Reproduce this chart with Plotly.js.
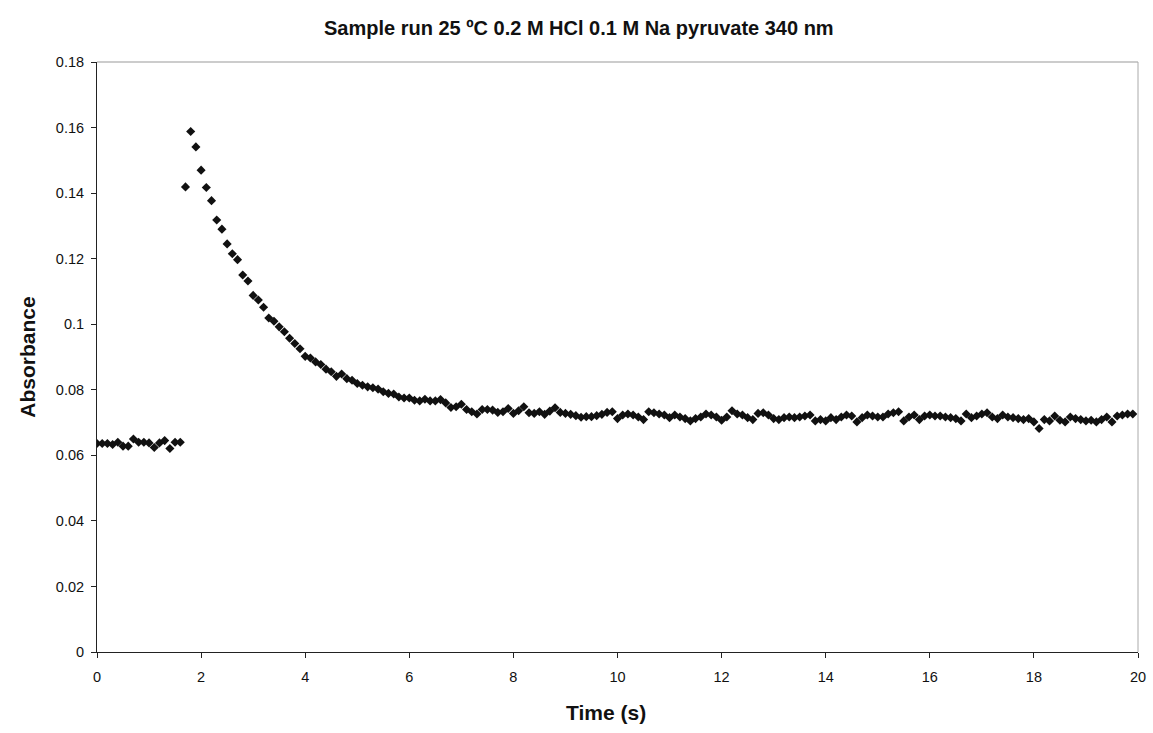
<!DOCTYPE html>
<html>
<head>
<meta charset="utf-8">
<script src="https://cdn.plot.ly/plotly-3.0.1.min.js"></script>
<style>html,body{margin:0;padding:0;background:#fff;}#chart{width:1153px;height:733px;}</style>
</head>
<body>
<div id="chart"></div>
<script>
// Time (s)
const time = [
 0.0,0.1,0.2,0.3,0.4,0.5,0.6,0.7,0.8,0.9,1.0,1.1,1.2,1.3,1.4,1.5,1.6,1.7,1.8,1.9,
 2.0,2.1,2.2,2.3,2.4,2.5,2.6,2.7,2.8,2.9,3.0,3.1,3.2,3.3,3.4,3.5,3.6,3.7,3.8,3.9,
 4.0,4.1,4.2,4.3,4.4,4.5,4.6,4.7,4.8,4.9,5.0,5.1,5.2,5.3,5.4,5.5,5.6,5.7,5.8,5.9,
 6.0,6.1,6.2,6.3,6.4,6.5,6.6,6.7,6.8,6.9,7.0,7.1,7.2,7.3,7.4,7.5,7.6,7.7,7.8,7.9,
 8.0,8.1,8.2,8.3,8.4,8.5,8.6,8.7,8.8,8.9,9.0,9.1,9.2,9.3,9.4,9.5,9.6,9.7,9.8,9.9,
 10.0,10.1,10.2,10.3,10.4,10.5,10.6,10.7,10.8,10.9,11.0,11.1,11.2,11.3,11.4,11.5,11.6,11.7,11.8,11.9,
 12.0,12.1,12.2,12.3,12.4,12.5,12.6,12.7,12.8,12.9,13.0,13.1,13.2,13.3,13.4,13.5,13.6,13.7,13.8,13.9,
 14.0,14.1,14.2,14.3,14.4,14.5,14.6,14.7,14.8,14.9,15.0,15.1,15.2,15.3,15.4,15.5,15.6,15.7,15.8,15.9,
 16.0,16.1,16.2,16.3,16.4,16.5,16.6,16.7,16.8,16.9,17.0,17.1,17.2,17.3,17.4,17.5,17.6,17.7,17.8,17.9,
 18.0,18.1,18.2,18.3,18.4,18.5,18.6,18.7,18.8,18.9,19.0,19.1,19.2,19.3,19.4,19.5,19.6,19.7,19.8,19.9
];
// Absorbance
const absorbance = [
 0.0636,0.0636,0.0636,0.0633,0.0640,0.0628,0.0628,0.0650,0.0640,0.0640,0.0638,0.0624,0.0638,0.0645,0.0621,0.0640,0.0640,0.1419,0.1588,0.1541,
 0.1470,0.1417,0.1377,0.1318,0.1290,0.1245,0.1215,0.1197,0.1150,0.1132,0.1088,0.1074,0.1052,0.1019,0.1009,0.0992,0.0977,0.0957,0.0941,0.0925,
 0.0902,0.0897,0.0885,0.0877,0.0863,0.0855,0.0841,0.0848,0.0834,0.0829,0.0819,0.0814,0.0809,0.0806,0.0802,0.0794,0.0789,0.0787,0.0778,0.0775,
 0.0775,0.0768,0.0766,0.0771,0.0766,0.0766,0.0770,0.0760,0.0746,0.0748,0.0756,0.0740,0.0733,0.0726,0.0740,0.0740,0.0738,0.0731,0.0733,0.0743,
 0.0728,0.0736,0.0748,0.0730,0.0728,0.0733,0.0725,0.0735,0.0745,0.0731,0.0728,0.0725,0.0721,0.0716,0.0718,0.0718,0.0721,0.0725,0.0731,0.0733,
 0.0712,0.0723,0.0726,0.0723,0.0717,0.0709,0.0733,0.0730,0.0726,0.0723,0.0715,0.0723,0.0717,0.0712,0.0705,0.0712,0.0717,0.0726,0.0723,0.0717,
 0.0707,0.0717,0.0736,0.0726,0.0723,0.0715,0.0709,0.0728,0.0730,0.0723,0.0712,0.0709,0.0715,0.0717,0.0715,0.0717,0.0720,0.0723,0.0705,0.0709,
 0.0705,0.0715,0.0709,0.0717,0.0723,0.0720,0.0702,0.0715,0.0723,0.0720,0.0717,0.0717,0.0726,0.0730,0.0733,0.0705,0.0717,0.0723,0.0709,0.0720,
 0.0723,0.0720,0.0720,0.0717,0.0715,0.0712,0.0705,0.0726,0.0715,0.0720,0.0726,0.0730,0.0717,0.0712,0.0723,0.0717,0.0715,0.0712,0.0709,0.0712,
 0.0702,0.0682,0.0709,0.0705,0.0720,0.0707,0.0702,0.0717,0.0712,0.0709,0.0705,0.0707,0.0702,0.0709,0.0717,0.0702,0.0720,0.0723,0.0726,0.0726
];
const xTickVals = [0,2,4,6,8,10,12,14,16,18,20];
const yTickVals = [0,0.02,0.04,0.06,0.08,0.1,0.12,0.14,0.16,0.18];
const chartTitle = 'Sample run 25 ºC 0.2 M HCl 0.1 M Na pyruvate 340 nm';
const xTitle = 'Time (s)';
const yTitle = 'Absorbance';

const trace = {
  x: time, y: absorbance, type: 'scatter', mode: 'markers',
  marker: {symbol: 'diamond', size: 7, color: '#111'},
  hoverinfo: 'x+y'
};

const font = '"Liberation Sans", Arial, sans-serif';
const layout = {
  width: 1153, height: 733,
  paper_bgcolor: '#fff', plot_bgcolor: '#fff',
  margin: {l: 97, r: 15, t: 62, b: 81},
  showlegend: false,
  title: {
    text: '<b>' + chartTitle + '</b>',
    font: {family: font, size: 20, color: '#111'},
    x: 0.502, xanchor: 'center', y: 0.962, yanchor: 'middle'
  },
  xaxis: {
    range: [0, 20], tickvals: xTickVals, ticks: 'outside', ticklen: 5, tickcolor: '#222',
    ticklabelstandoff: 7,
    showline: true, linecolor: '#222', linewidth: 1, showgrid: false, zeroline: false,
    tickfont: {family: font, size: 14.5, color: '#111'}
  },
  yaxis: {
    range: [0, 0.18], tickvals: yTickVals, ticks: 'outside', ticklen: 5, tickcolor: '#222',
    ticklabelstandoff: 4,
    showline: true, linecolor: '#222', linewidth: 1, showgrid: false, zeroline: false,
    tickfont: {family: font, size: 14.5, color: '#111'}
  },
  annotations: [
    {text: '<b>' + xTitle + '</b>', xref: 'paper', yref: 'paper', x: 0.489, y: -0.103,
     xanchor: 'center', yanchor: 'middle', showarrow: false,
     font: {family: font, size: 21, color: '#111'}},
    {text: '<b>' + yTitle + '</b>', xref: 'paper', yref: 'paper', x: -0.0675, y: 0.50,
     xanchor: 'center', yanchor: 'middle', showarrow: false, textangle: -90,
     font: {family: font, size: 21, color: '#111'}}
  ],
  shapes: [
    {type: 'line', xref: 'paper', yref: 'paper', x0: 0, x1: 1, y0: 1, y1: 1, line: {color: '#999', width: 1}},
    {type: 'line', xref: 'paper', yref: 'paper', x0: 1, x1: 1, y0: 0, y1: 1, line: {color: '#aaa', width: 1}}
  ]
};

Plotly.newPlot('chart', [trace], layout, {displayModeBar: false, staticPlot: true});
</script>
</body>
</html>
